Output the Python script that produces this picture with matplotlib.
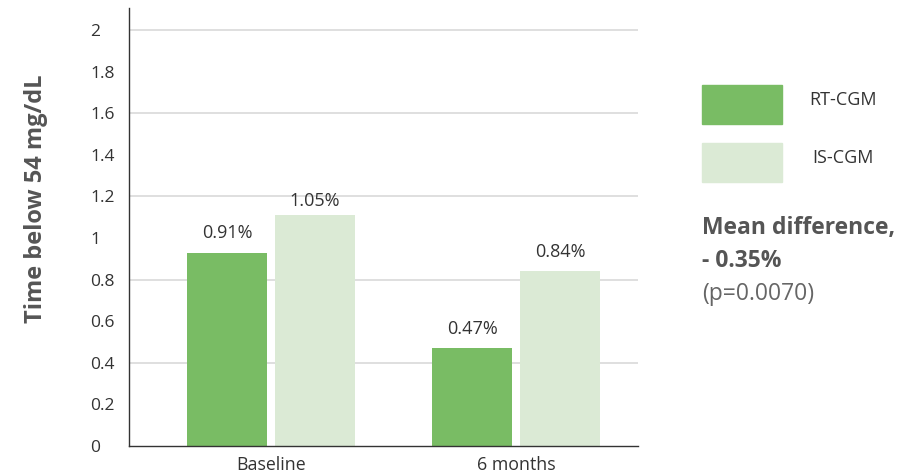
import matplotlib.pyplot as plt
import numpy as np

plt.rcParams["font.family"] = ["Open Sans", "DejaVu Sans"]

# data
groups = ["Baseline", "6 months"]
series = ["RT-CGM", "IS-CGM"]
rt_cgm = [0.93, 0.47]
is_cgm = [1.11, 0.84]
rt_labels = ["0.91%", "0.47%"]
is_labels = ["1.05%", "0.84%"]
y_ticks = [0, 0.2, 0.4, 0.6, 0.8, 1.0, 1.2, 1.4, 1.6, 1.8, 2.0]
y_tick_labels = ["0", "0.2", "0.4", "0.6", "0.8", "1", "1.2", "1.4", "1.6", "1.8", "2"]
grid_at = [0.4, 0.8, 1.2, 1.6, 2.0]

green = "#79bc64"
light = "#dbead5"
text_dark = "#333333"
text_grey = "#555555"

fig = plt.figure(figsize=(9.13, 4.76), dpi=100)
ax = fig.add_axes([129 / 913, 1 - 446 / 476, (638 - 129) / 913, (446 - 8) / 476])

x = np.arange(len(groups))
w = 80 / 245
off = 44 / 245

for g in grid_at:
    ax.axhline(g, color="#d9d9d9", lw=1.2, zorder=0)

b1 = ax.bar(x - off, rt_cgm, w, color=green, zorder=2)
b2 = ax.bar(x + off, is_cgm, w, color=light, zorder=2)

# label gaps above the bars (points), as in the original
gaps = {(0, 0): 14, (0, 1): 14, (1, 0): 10, (1, 1): 14}
for si, (bars, labels) in enumerate(((b1, rt_labels), (b2, is_labels))):
    for gi, (bar, lab) in enumerate(zip(bars, labels)):
        ax.annotate(lab, (bar.get_x() + bar.get_width() / 2, bar.get_height()),
                    xytext=(0, gaps[(si, gi)]), textcoords="offset points",
                    ha="center", va="center", fontsize=13, color=text_dark)

ax.set_xlim(-0.58, 1.498)
ax.set_ylim(0, 2.106)
ax.set_xticks(x)
ax.set_xticklabels(groups, fontsize=12.8, color=text_dark)
ax.set_yticks(y_ticks)
ax.set_yticklabels(y_tick_labels, fontsize=12.5, color=text_dark, ha="left")
ax.tick_params(axis="y", length=0, pad=28)
ax.tick_params(axis="x", length=0, pad=7)

for s in ("top", "right"):
    ax.spines[s].set_visible(False)
for s in ("left", "bottom"):
    ax.spines[s].set_color(text_dark)
    ax.spines[s].set_linewidth(1.0)

fig.text(36 / 913, 1 - 199 / 476, "Time below 54 mg/dL", rotation=90,
         ha="center", va="center", fontsize=17, fontweight="bold", color=text_grey)

# legend drawn by hand
for i, (name, col) in enumerate(zip(series, [green, light])):
    top = 85 + i * 58
    fig.patches.append(plt.Rectangle((702 / 913, 1 - (top + 39) / 476), 80 / 913, 39 / 476,
                                     transform=fig.transFigure, color=col))
    fig.text(843 / 913, 1 - (top + 15) / 476, name, ha="center", va="center",
             fontsize=13, color=text_dark)

fig.text(702 / 913, 1 - 228 / 476, "Mean difference,", ha="left", va="center",
         fontsize=16.5, fontweight="bold", color=text_grey)
fig.text(702 / 913, 1 - 261 / 476, "- 0.35%", ha="left", va="center",
         fontsize=16.5, fontweight="bold", color=text_grey)
fig.text(702 / 913, 1 - 294 / 476, "(p=0.0070)", ha="left", va="center",
         fontsize=16.5, color="#666666")

fig.savefig("out.png", dpi=100)
